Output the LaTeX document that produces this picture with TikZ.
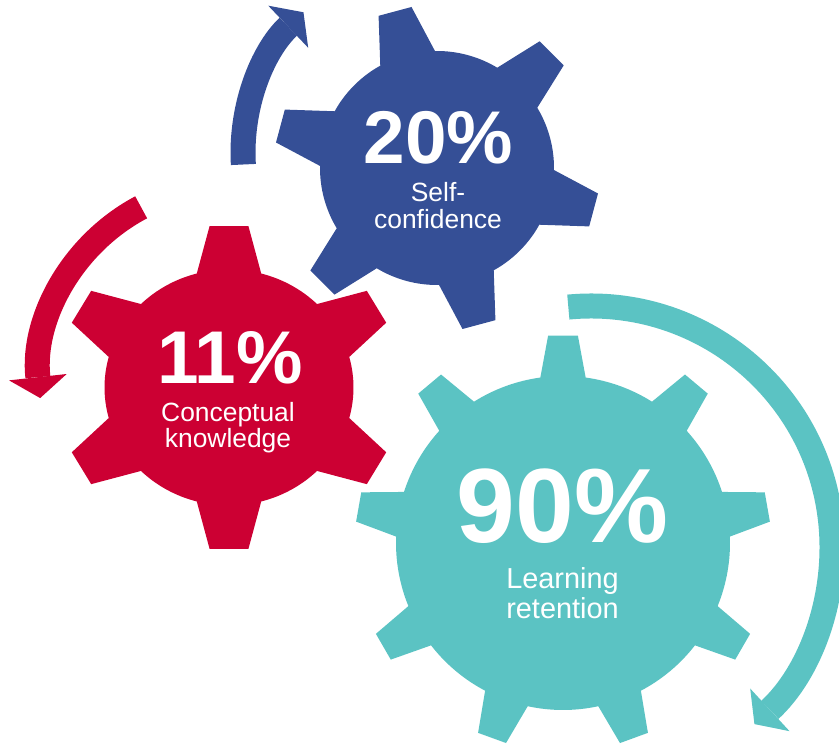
\documentclass[tikz,border=0pt]{standalone}
\usepackage{fontspec}
\setmainfont{Liberation Sans}
\usetikzlibrary{arrows.meta}
\definecolor{selfblue}{HTML}{354F96}
\definecolor{conceptred}{HTML}{CC0033}
\definecolor{retainteal}{HTML}{5BC3C3}
\tikzstyle{turn} = [line width=25bp, -{Triangle[length=21bp, width=58bp, line width=0pt]}]
\tikzstyle{pct} = [text=white, font=\fontsize{75}{75}\selectfont\bfseries, anchor=base, inner sep=0pt]
\tikzstyle{note} = [text=white, font=\fontsize{26.5}{26.5}\selectfont, align=center, anchor=base, inner sep=0pt]

% gear: #1 colour, #2 teeth, #3 body radius, #4 tip radius,
% #5 half angle at root, #6 half angle at tip, #7 angle of first tooth
\newcommand{\gearpath}[7]{%
  \fill[#1] (#7-#5:#3)
  \foreach \k in {1,...,#2} {
    -- ({#7+(\k-1)*360/#2-#6}:#4) -- ({#7+(\k-1)*360/#2+#6}:#4)
    -- ({#7+(\k-1)*360/#2+#5}:#3)
    arc[start angle={#7+(\k-1)*360/#2+#5}, end angle={#7+\k*360/#2-#5}, radius=#3]
  } -- cycle;}

\begin{document}
\begin{tikzpicture}[x=1bp, y=1bp]
	\useasboundingbox (0,0) rectangle (839,744);

	% centres of the turning arrows
	\coordinate (blue turn) at (437,591);
	\coordinate (red turn) at (231,367);
	\coordinate (teal turn) at (591,197);

	% the arrows round the gears
	\draw[turn, selfblue] ([shift={(183.4:194)}]blue turn) arc[start angle=183.4, end angle=133.5, radius=194];
	\draw[turn, conceptred] ([shift={(117.9:192)}]red turn) arc[start angle=117.9, end angle=186.3, radius=192];
	\draw[turn, retainteal] ([shift={(95.4:241)}]teal turn) arc[start angle=95.4, end angle=-47.3, radius=241];

	% the gears
	\begin{scope}[shift={(437,576)}]
		\gearpath{selfblue}{6}{117}{163}{14}{6}{-15}
	\end{scope}
	\begin{scope}[shift={(229,356.5)}, xscale=1.055]
		\gearpath{conceptred}{6}{118}{162.5}{15}{6.5}{30}
	\end{scope}
	\begin{scope}[shift={(563,201)}]
		\gearpath{retainteal}{9}{167}{208}{7.8}{4.1}{10}
	\end{scope}

	% the numbers and what they stand for (notes sit on their last line)
	\node[pct] (blue pct) at (438.5,580.7) {20\%};
	\node[note] (blue note) at (438,515.7) {Self-\\confidence};

	\node[pct] (red pct) at (230,360.7) {11\%};
	\node[note] (red note) at (228,296.3) {Conceptual\\knowledge};

	\node[pct, font=\fontsize{106}{106}\selectfont\bfseries] (teal pct) at (562.5,201) {90\%};
	\node[note, font=\fontsize{29}{31}\selectfont] (teal note) at (562.5,125) {Learning\\retention};
\end{tikzpicture}
\end{document}
